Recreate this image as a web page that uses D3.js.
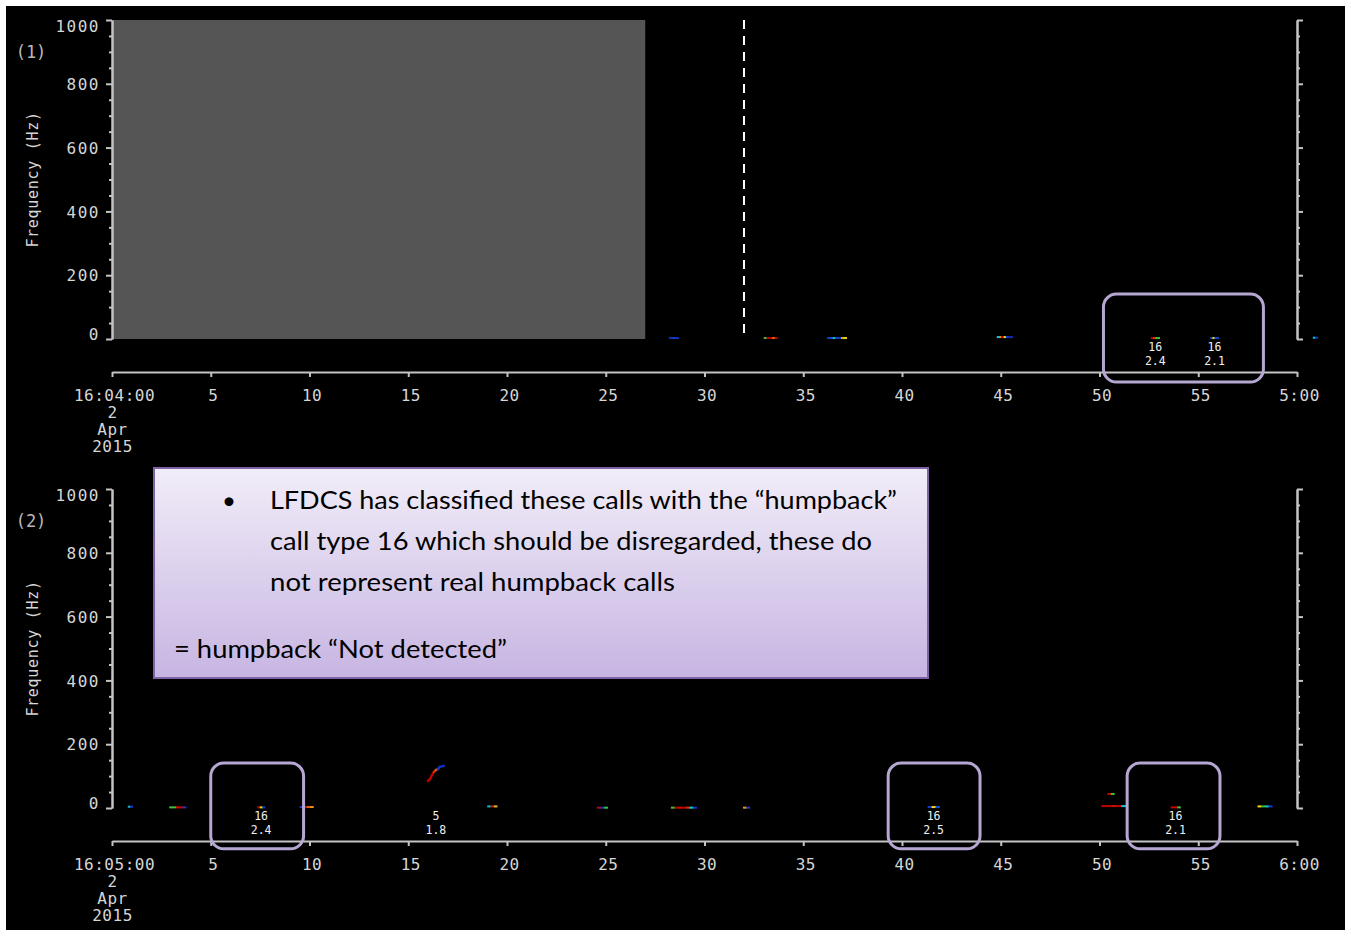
<!DOCTYPE html>
<html>
<head>
<meta charset="utf-8">
<script src="https://cdn.jsdelivr.net/npm/d3@7"></script>
<style>
  body { margin: 0; background: #fff; }
</style>
</head>
<body>
<div id="chart"></div>
<script>
// ---------- data ----------
// x in seconds past the minute, frequency in Hz
const xTickValues = [0, 5, 10, 15, 20, 25, 30, 35, 40, 45, 50, 55, 60]
const xTickLabels1 = ['16:04:00', '5', '10', '15', '20', '25', '30', '35', '40', '45', '50', '55', '5:00']
const xTickLabels2 = ['16:05:00', '5', '10', '15', '20', '25', '30', '35', '40', '45', '50', '55', '6:00']
const dateLines = ['2', 'Apr', '2015']
const yMajorTicks = [0, 200, 400, 600, 800, 1000]
const yMinorTicks = [50, 100, 150, 250, 300, 350, 450, 500, 550, 650, 700, 750, 850, 900, 950]
const panelNames = ['(1)', '(2)']

// detected tonal traces: start, end, frequency, intensity along the trace (0..1)
const calls1 = [
  {t0: 28.2, t1: 28.7, f: 3, c: [0.15, 0.2, 0.15]},
  {t0: 33.0, t1: 33.7, f: 3, c: [0.5, 0.92, 0.9, 0.8, 0.92]},
  {t0: 36.2, t1: 37.2, f: 3, c: [0.18, 0.22, 0.38, 0.2, 0.18, 0.72, 0.66]},
  {t0: 44.8, t1: 45.6, f: 6, c: [0.4, 0.75, 0.9, 0.65, 0.18, 0.15, 0.15]},
  {t0: 52.6, t1: 53.05, f: 3, c: [0.9, 0.85, 0.5, 0.5], type: '16', score: '2.4'},
  {t0: 55.6, t1: 56.05, f: 3, c: [0.18, 0.66, 0.22, 0.18], type: '16', score: '2.1'},
  {t0: 60.8, t1: 61.05, f: 4, c: [0.38, 0.18]}
]
const calls2 = [
  {t0: 0.8, t1: 1.05, f: 4, c: [0.38, 0.18]},
  {t0: 2.9, t1: 3.75, f: 2, c: [0.5, 0.5, 0.88, 0.9, 0.18]},
  {t0: 7.35, t1: 7.75, f: 2, c: [0.9, 0.66, 0.18], type: '16', score: '2.4'},
  {t0: 9.5, t1: 10.2, f: 3, c: [0.18, 0.9, 0.8, 0.75]},
  {t0: 19.0, t1: 19.5, f: 5, c: [0.38, 0.88, 0.7]},
  {t0: 24.55, t1: 25.1, f: 1, c: [0.9, 0.18, 0.5]},
  {t0: 28.3, t1: 29.6, f: 1, c: [0.5, 0.9, 0.88, 0.9, 0.85, 0.4, 0.18]},
  {t0: 31.95, t1: 32.3, f: 1, c: [0.75, 0.18]},
  {t0: 41.3, t1: 41.9, f: 3, c: [0.18, 0.66, 0.22], type: '16', score: '2.5'},
  {t0: 50.4, t1: 50.75, f: 44, c: [0.9, 0.5]},
  {t0: 50.1, t1: 51.35, f: 6, c: [0.9, 0.9, 0.88, 0.9, 0.4]},
  {t0: 53.6, t1: 54.1, f: 2, c: [0.9, 0.9, 0.5], type: '16', score: '2.1'},
  {t0: 58.0, t1: 58.75, f: 5, c: [0.66, 0.5, 0.4, 0.18]}
]
// the upswept "5" call in panel 2: time, frequency, intensity
const sweepT = [16.0, 16.1, 16.2, 16.3, 16.4, 16.5, 16.6, 16.8]
const sweepF = [85, 91, 103, 113, 119, 122, 129, 132]
const sweepC = [0.92, 0.9, 0.9, 0.9, 0.85, 0.8, 0.18, 0.15]
const sweepLabel = {type: '5', score: '1.8'}

// highlighted call boxes (time range, frequency range)
const boxes1 = [{t0: 50.2, t1: 58.3, fTop: 141, fBot: -135}]
const boxes2 = [
  {t0: 5.0, t1: 9.7, fTop: 141, fBot: -128},
  {t0: 39.3, t1: 43.95, fTop: 141, fBot: -128},
  {t0: 51.4, t1: 56.1, fTop: 141, fBot: -128}
]
// no data (grey) block and the file boundary marker in panel 1
const gap1 = {t0: 0, t1: 27.0}
const boundary1 = 32.0

const noteLines = [
  'LFDCS has classified these calls with the \u201chumpback\u201d',
  'call type 16 which should be disregarded, these do',
  'not represent real humpback calls'
]
const noteSummary = '= humpback \u201cNot detected\u201d'

// ---------- layout ----------
const W = 1351, H = 937
const plotLeft = 112, plotRight = 1297
const plotH = 319
const panelTops = [20, 489]
const axisGap = 33
const fg = '#d6d6d6'
const lineCol = '#c4c4c4'
const monoFont = '"DejaVu Sans Mono", monospace'

const jet = d3.scaleLinear()
  .domain([0, 0.2, 0.4, 0.5, 0.65, 0.75, 0.9, 1])
  .range(['#000090', '#1840d0', '#10c8d8', '#40c040', '#e8e020', '#f09010', '#c80000', '#900000'])

const x = d3.scaleLinear().domain([0, 60]).range([plotLeft, plotRight])

const svg = d3.select('#chart')
  .append('svg')
    .attr('width', W)
    .attr('height', H)

// black picture frame
svg.append('rect')
  .attr('x', 6).attr('y', 6)
  .attr('width', W - 12).attr('height', H - 13)
  .attr('fill', '#000')

function drawPanel(i, calls, boxes, tickLabels) {
  const top = panelTops[i]
  const bottom = top + plotH
  const y = d3.scaleLinear().domain([0, 1000]).range([bottom, top])
  const g = svg.append('g')

  if (i === 0) {
    g.append('rect')
      .attr('x', x(gap1.t0) + 1)
      .attr('y', y(1000))
      .attr('width', x(gap1.t1) - x(gap1.t0) - 1)
      .attr('height', y(0) - y(1000))
      .attr('fill', '#555555')

    g.append('line')
      .attr('x1', x(boundary1)).attr('x2', x(boundary1))
      .attr('y1', y(1000)).attr('y2', y(0))
      .attr('stroke', '#fff')
      .attr('stroke-width', 2)
      .attr('stroke-dasharray', '9,7')
  }

  // left axis: minor then major ticks
  const leftMinor = g.append('g')
    .attr('transform', 'translate(' + plotLeft + ',0)')
    .call(d3.axisLeft(y).tickValues(yMinorTicks).tickSize(3).tickSizeOuter(0).tickFormat(''))
  const leftMajor = g.append('g')
    .attr('transform', 'translate(' + plotLeft + ',0)')
    .call(d3.axisLeft(y).tickValues(yMajorTicks).tickSize(6).tickSizeOuter(0).tickPadding(6)
      .tickFormat(d3.format('d')))
  const rightMinor = g.append('g')
    .attr('transform', 'translate(' + plotRight + ',0)')
    .call(d3.axisRight(y).tickValues(yMinorTicks).tickSize(3).tickSizeOuter(0).tickFormat(''))
  const rightMajor = g.append('g')
    .attr('transform', 'translate(' + plotRight + ',0)')
    .call(d3.axisRight(y).tickValues(yMajorTicks).tickSize(6).tickSizeOuter(0).tickFormat(''))

  ;[leftMinor, leftMajor, rightMinor, rightMajor].forEach(a => {
    a.select('.domain').attr('stroke', lineCol).attr('stroke-width', 2)
    a.selectAll('.tick line').attr('stroke', lineCol).attr('stroke-width', 2)
  })
  leftMajor.selectAll('.tick text')
    .attr('fill', fg)
    .style('font-family', monoFont)
    .style('font-size', '16px')
    .style('letter-spacing', '1.5px')
    .attr('dy', d => d === 1000 ? '0.7em' : d === 0 ? '0.05em' : '0.35em')

  // bottom time axis
  const xAxis = g.append('g')
    .attr('transform', 'translate(0,' + (bottom + axisGap) + ')')
    .call(d3.axisBottom(x).tickValues(xTickValues).tickSize(5).tickSizeOuter(0).tickPadding(13)
      .tickFormat((d, k) => tickLabels[k]))
  xAxis.select('.domain').attr('stroke', lineCol).attr('stroke-width', 2)
  xAxis.selectAll('.tick line').attr('stroke', lineCol).attr('stroke-width', 2)
  xAxis.selectAll('.tick text')
    .attr('fill', fg)
    .attr('x', 2)
    .style('font-family', monoFont)
    .style('font-size', '16px')
    .style('letter-spacing', '0.5px')
    .each(function(d, k) {
      if (k !== 0) return
      const t = d3.select(this)
      dateLines.forEach(s => {
        t.append('tspan').attr('x', 0).attr('dy', '1.05em').text(s)
      })
    })

  // axis title and panel number
  g.append('text')
    .attr('transform', 'translate(38,' + (top + bottom) / 2 + ') rotate(-90)')
    .attr('text-anchor', 'middle')
    .attr('fill', fg)
    .style('font-family', monoFont)
    .style('font-size', '15px')
    .style('letter-spacing', '0.7px')
    .text('Frequency (Hz)')
  g.append('text')
    .attr('x', 31).attr('y', top + 38)
    .attr('text-anchor', 'middle')
    .attr('fill', '#b8b8b8')
    .style('font-family', monoFont)
    .style('font-size', '17px')
    .text(panelNames[i])

  // traces, drawn as short coloured pieces
  calls.forEach(call => {
    const n = call.c.length
    const step = (call.t1 - call.t0) / n
    g.append('g').selectAll('rect')
      .data(call.c)
      .enter()
      .append('rect')
        .attr('x', (v, k) => x(call.t0 + k * step))
        .attr('y', y(call.f) - 1)
        .attr('width', (v, k) => x(call.t0 + (k + 1) * step) - x(call.t0 + k * step) + 0.3)
        .attr('height', 2)
        .attr('fill', v => jet(v))
  })

  // classification labels under labelled traces (type on top, score below)
  const labelled = calls.filter(c => c.type)
  if (i === 1) {
    labelled.push({t0: sweepT[0], t1: sweepT[sweepT.length - 1], type: sweepLabel.type, score: sweepLabel.score})
  }
  labelled.forEach(c => {
    const cx = x((c.t0 + c.t1) / 2)
    ;[c.type, c.score].forEach((s, k) => {
      g.append('text')
        .attr('x', cx)
        .attr('y', y(0) + 12 + k * 14)
        .attr('text-anchor', 'middle')
        .attr('fill', '#f0f0f0')
        .style('font-family', monoFont)
        .style('font-size', '11.5px')
        .text(s)
    })
  })

  if (i === 1) {
    const pts = sweepT.map((t, k) => [x(t), y(sweepF[k])])
    g.append('g').selectAll('line')
      .data(d3.pairs(pts))
      .enter()
      .append('line')
        .attr('x1', d => d[0][0]).attr('y1', d => d[0][1])
        .attr('x2', d => d[1][0]).attr('y2', d => d[1][1])
        .attr('stroke', (d, k) => jet(sweepC[k + 1]))
        .attr('stroke-width', 2.2)
        .attr('stroke-linecap', 'square')
  }

  // highlight boxes
  g.append('g').selectAll('rect')
    .data(boxes)
    .enter()
    .append('rect')
      .attr('x', b => x(b.t0))
      .attr('y', b => y(b.fTop))
      .attr('width', b => x(b.t1) - x(b.t0))
      .attr('height', b => y(b.fBot) - y(b.fTop))
      .attr('rx', 13)
      .attr('fill', 'none')
      .attr('stroke', '#b6a7d2')
      .attr('stroke-width', 3)
}

drawPanel(0, calls1, boxes1, xTickLabels1)
drawPanel(1, calls2, boxes2, xTickLabels2)

// ---------- annotation note ----------
const defs = svg.append('defs')
const grad = defs.append('linearGradient')
  .attr('id', 'noteFill')
  .attr('x1', 0).attr('y1', 0).attr('x2', 0).attr('y2', 1)
grad.append('stop').attr('offset', '0%').attr('stop-color', '#f1edf8')
grad.append('stop').attr('offset', '100%').attr('stop-color', '#c7b5e2')

const note = svg.append('g')
note.append('rect')
  .attr('x', 154).attr('y', 468)
  .attr('width', 774).attr('height', 210)
  .attr('fill', 'url(#noteFill)')
  .attr('stroke', '#7f63a7')
  .attr('stroke-width', 2)

const noteFont = 'Lato, "Open Sans", sans-serif'
const noteWidths = [627, 602, 405]
note.append('text')
  .attr('x', 229).attr('y', 509)
  .attr('text-anchor', 'middle')
  .attr('fill', '#000')
  .style('font-family', noteFont)
  .style('font-size', '24px')
  .text('\u2022')
note.selectAll('text.line')
  .data(noteLines)
  .enter()
  .append('text')
    .attr('class', 'line')
    .attr('x', 270)
    .attr('y', (d, k) => 509 + k * 41)
    .attr('textLength', (d, k) => noteWidths[k])
    .attr('lengthAdjust', 'spacingAndGlyphs')
    .attr('fill', '#000')
    .style('font-family', noteFont)
    .style('font-size', '25px')
    .text(d => d)
note.append('text')
  .attr('x', 174).attr('y', 658)
  .attr('textLength', 333)
  .attr('lengthAdjust', 'spacingAndGlyphs')
  .attr('fill', '#000')
  .style('font-family', noteFont)
  .style('font-size', '25px')
  .text(noteSummary)
</script>
</body>
</html>
